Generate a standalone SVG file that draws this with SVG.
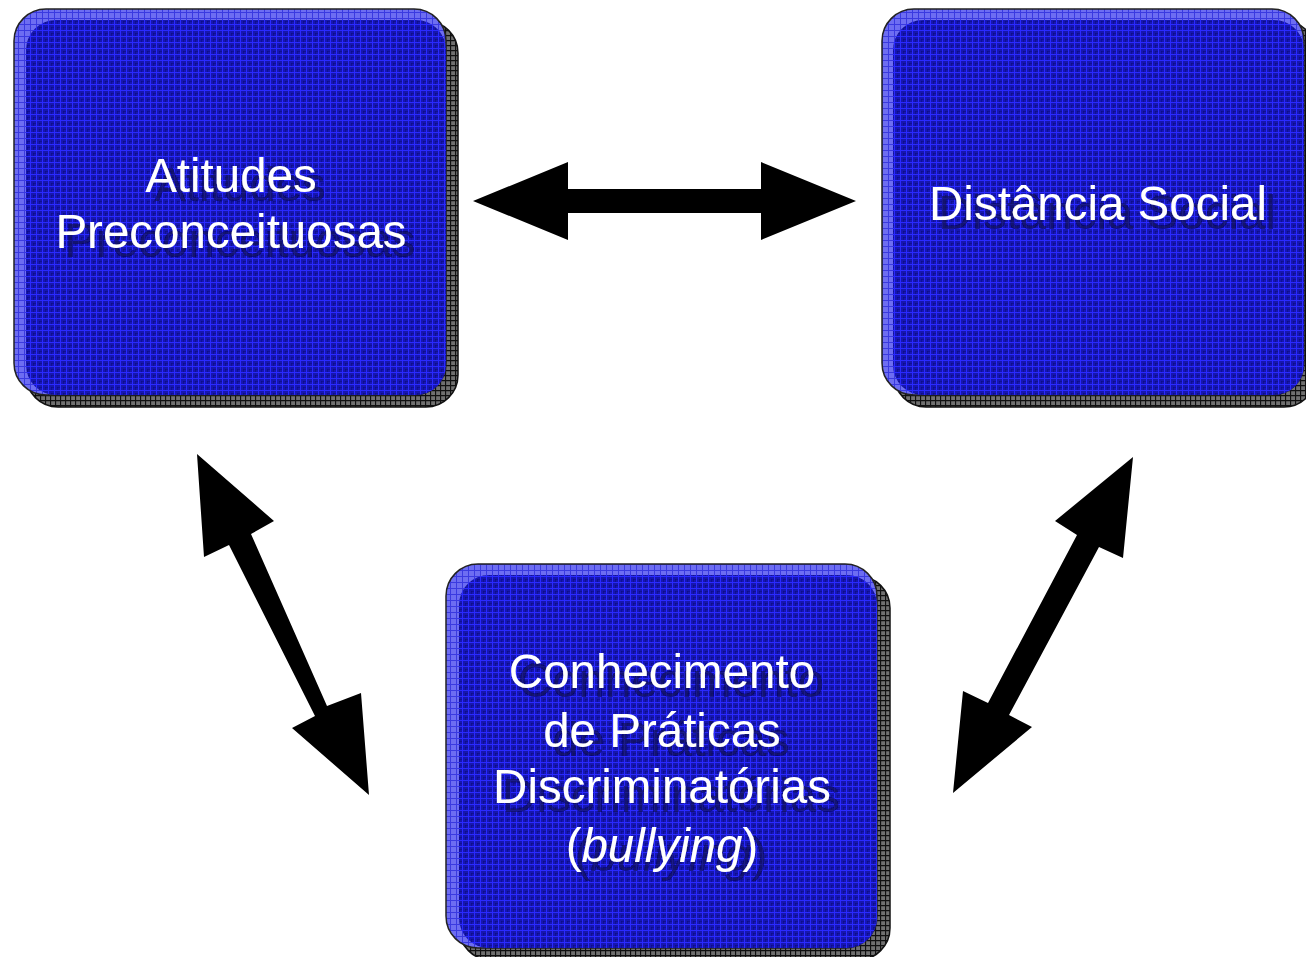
<svg xmlns="http://www.w3.org/2000/svg" width="1306" height="957" viewBox="0 0 1306 957">
<defs>
<pattern id="faceGrid" width="6" height="6" patternUnits="userSpaceOnUse">
<rect width="6" height="6" fill="#1616b0"/>
<path d="M0 0.5H6M0.5 0V6" stroke="#2a2aff" stroke-width="1"/>
<path d="M3 3.5H6M3.5 3V6" stroke="#0c0c80" stroke-width="0.6"/>
</pattern>
<pattern id="bevelGrid" width="6" height="6" patternUnits="userSpaceOnUse">
<rect width="6" height="6" fill="#6d6df2"/>
<path d="M0 0.5H6M0.5 0V6" stroke="#3a3ae0" stroke-width="1"/>
</pattern>
<pattern id="shadowGrid" width="5" height="5" patternUnits="userSpaceOnUse">
<rect width="5" height="5" fill="#707070"/>
<path d="M0 0.5H5M0.5 0V5" stroke="#101010" stroke-width="1.3"/>
</pattern>
<filter id="txtShadow" x="-10%" y="-20%" width="130%" height="160%">
<feOffset in="SourceAlpha" dx="9" dy="9" result="off"/>
<feFlood flood-color="#0a0a50" flood-opacity="0.65"/>
<feComposite in2="off" operator="in" result="sh"/>
<feMerge><feMergeNode in="sh"/><feMergeNode in="SourceGraphic"/></feMerge>
</filter>
<style>
.shadow{fill:url(#shadowGrid);stroke:#111;stroke-width:1.5}
.bevel{fill:url(#bevelGrid);stroke:#222;stroke-width:1.5}
.face{fill:url(#faceGrid)}
.lbl{font-family:"Liberation Sans",Arial,sans-serif;font-size:47.5px;text-anchor:middle;fill:#ffffff;filter:url(#txtShadow)}
.arrow{fill:#000000}
</style>
</defs>
<rect width="1306" height="957" fill="#ffffff"/>

<g id="node-atitudes">
<rect class="shadow" x="26" y="21" width="432" height="386" rx="32"/>
<rect class="bevel" x="14" y="9" width="432" height="386" rx="32"/>
<rect class="face" x="26" y="20" width="420" height="375" rx="30"/>
<text class="lbl" x="231" y="192"><tspan x="231" y="192">Atitudes</tspan><tspan x="231" y="248">Preconceituosas</tspan></text>
</g>

<g id="node-distancia">
<rect class="shadow" x="894" y="21" width="422" height="386" rx="32"/>
<rect class="bevel" x="882" y="9" width="422" height="386" rx="32"/>
<rect class="face" x="893" y="20" width="411" height="375" rx="30"/>
<text class="lbl" x="1098" y="220">Distância Social</text>
</g>

<g id="node-conhecimento">
<rect class="shadow" x="459" y="576" width="431" height="384" rx="32"/>
<rect class="bevel" x="446" y="564" width="431" height="384" rx="32"/>
<rect class="face" x="459" y="575" width="418" height="373" rx="30"/>
<text class="lbl" x="662" y="688"><tspan x="662" y="688">Conhecimento</tspan><tspan x="662" y="747">de Práticas</tspan><tspan x="662" y="803">Discriminatórias</tspan><tspan x="662" y="862">(<tspan font-style="italic">bullying</tspan>)</tspan></text>
</g>

<g id="connectors">
<polygon class="arrow" points="473,201 568,162 568,189 761,189 761,162 856,201 761,240 761,213 568,213 568,240"/>
<polygon class="arrow" points="197,454 274,521 251,534 327,706 361,693 369,795 292,728 315,716 229,545 204,557"/>
<polygon class="arrow" points="1133,457 1123,558 1099,547 1009,715 1032,727 953,793 963,691 988,703 1077,535 1055,521"/>
</g>
</svg>
